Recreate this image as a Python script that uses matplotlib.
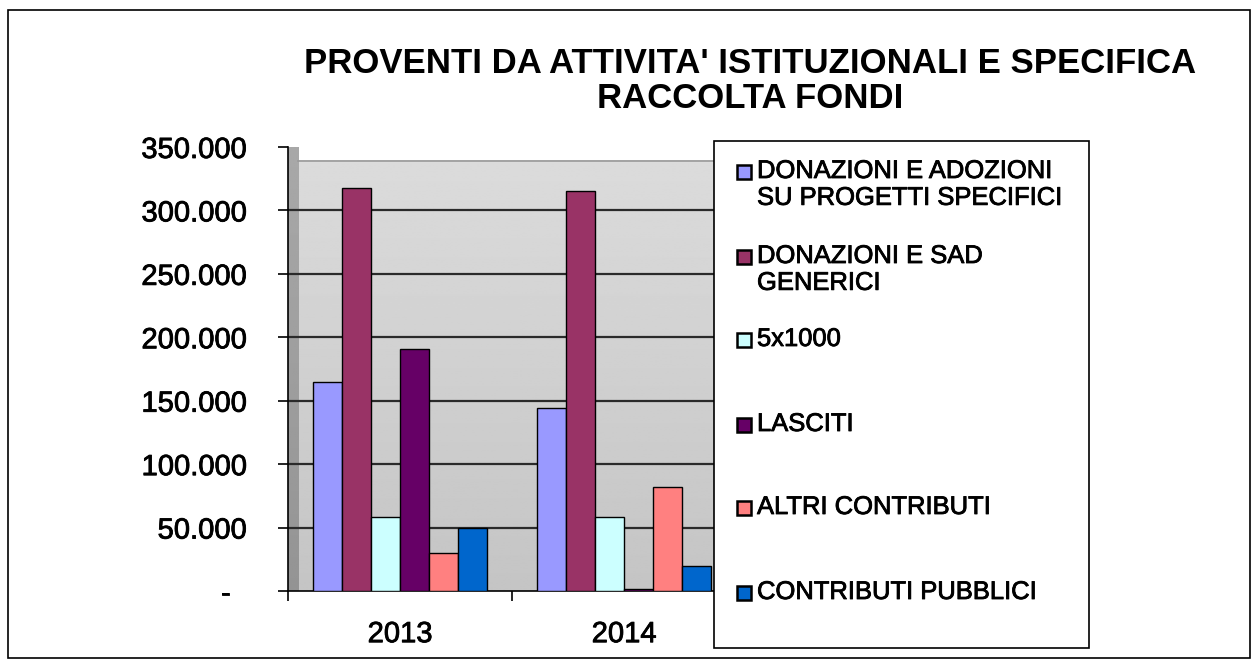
import matplotlib
matplotlib.use("Agg")
import matplotlib.pyplot as plt
import matplotlib.patheffects as pe
import numpy as np
from matplotlib.patches import Rectangle

plt.rcParams["font.family"] = ["Liberation Sans", "DejaVu Sans"]

# -- data ----------------------------------------------------------------------
years = ["2013", "2014"]
series = [
    "DONAZIONI E ADOZIONI\nSU PROGETTI SPECIFICI",
    "DONAZIONI E SAD\nGENERICI",
    "5x1000",
    "LASCITI",
    "ALTRI CONTRIBUTI",
    "CONTRIBUTI PUBBLICI",
]
adozioni = [165000, 144000]
sad_generici = [318000, 315000]
cinque_per_mille = [58000, 58000]
lasciti = [191000, 1500]
altri_contributi = [30000, 82000]
contributi_pubblici = [50000, 20000]
values = [adozioni, sad_generici, cinque_per_mille, lasciti,
          altri_contributi, contributi_pubblici]
colours = ["#9999ff", "#993366", "#ccffff", "#660066", "#ff8080", "#0066cc"]

y_ticks = [0, 50000, 100000, 150000, 200000, 250000, 300000, 350000]
y_ticklabels = ["-  ", "50.000", "100.000", "150.000", "200.000",
                "250.000", "300.000", "350.000"]

heavy = [pe.withStroke(linewidth=0.6, foreground="black")]

# -- figure --------------------------------------------------------------------
W, H = 1258, 661
fig = plt.figure(figsize=(W / 100, H / 100), dpi=100)
fig.patch.set_facecolor("white")

# outer frame
fig.patches.append(Rectangle((8 / W, 1 - 658 / H), 1242 / W, 648 / H,
                             transform=fig.transFigure, fill=False,
                             edgecolor="black", linewidth=1.2))

ax = fig.add_axes([288 / W, 1 - 591 / H, 448 / W, 444 / H])
ax.set_xlim(-0.5, 1.5)
ax.set_ylim(0, 350000)
ax.set_facecolor("white")

# back wall gradient + side wall
grad = np.linspace(0.86, 0.77, 256).reshape(-1, 1)
ax.imshow(grad, extent=(-0.455, 1.5, 0, 339000), aspect="auto",
          cmap="gray", vmin=0, vmax=1, origin="upper", zorder=0)
ax.imshow(np.linspace(0.66, 0.58, 256).reshape(-1, 1),
          extent=(-0.5, -0.455, 0, 350000), aspect="auto",
          cmap="gray", vmin=0, vmax=1, origin="upper", zorder=0)
for yv in y_ticks[1:-1]:
    ax.axhline(yv, color="#2a2a2a", linewidth=1.6, zorder=1)
ax.plot([-0.455, 1.5], [339000, 339000], color="#999999", lw=1.2, zorder=1)

x = np.arange(len(years))
n = len(series)
bw = 0.13
for i, (vals, col) in enumerate(zip(values, colours)):
    ax.bar(x + (i - (n - 1) / 2) * bw, vals, width=bw, color=col,
           edgecolor="black", linewidth=1.0, zorder=3)

ax.spines["top"].set_visible(False)
ax.spines["right"].set_visible(False)
ax.spines["left"].set_linewidth(1.2)
ax.spines["bottom"].set_linewidth(1.2)

ax.set_yticks(y_ticks)
ax.set_yticklabels(y_ticklabels, fontsize=21)
ax.tick_params(axis="y", direction="out", length=7, width=1.2, pad=23)

ax.set_xticks([-0.5, 0.5, 1.5])
ax.set_xticklabels(["", "", ""])
ax.set_xticks(x, minor=True)
ax.set_xticklabels(years, minor=True, fontsize=21)
ax.tick_params(axis="x", which="major", direction="out", length=7, width=1.2)
ax.tick_params(axis="x", which="minor", length=0, pad=21)
for t in ax.get_yticklabels() + ax.get_xticklabels(minor=True):
    t.set_path_effects(heavy)

# title
fig.text(750 / W, 1 - 81 / H,
         "PROVENTI DA ATTIVITA' ISTITUZIONALI E SPECIFICA\nRACCOLTA FONDI",
         ha="center", va="center", fontsize=25, fontweight="bold",
         linespacing=1.1)

# legend box drawn by hand to follow the original's uneven row spacing
fig.patches.append(Rectangle((714 / W, 1 - 648 / H), 375 / W, 507 / H,
                             transform=fig.transFigure, facecolor="white",
                             edgecolor="black", linewidth=1.2, zorder=5))
row_y = [172, 257, 340, 425, 508, 593]
for label, col, yy in zip(series, colours, row_y):
    fig.patches.append(Rectangle((737 / W, 1 - (yy + 7) / H), 14 / W, 14 / H,
                                 transform=fig.transFigure, facecolor=col,
                                 edgecolor="black", linewidth=1.8, zorder=6))
    fig.text(757 / W, 1 - (yy - 13) / H, label, ha="left", va="top",
             fontsize=18.4, linespacing=1.15, zorder=7, path_effects=heavy)

fig.savefig("out.png", dpi=100)
